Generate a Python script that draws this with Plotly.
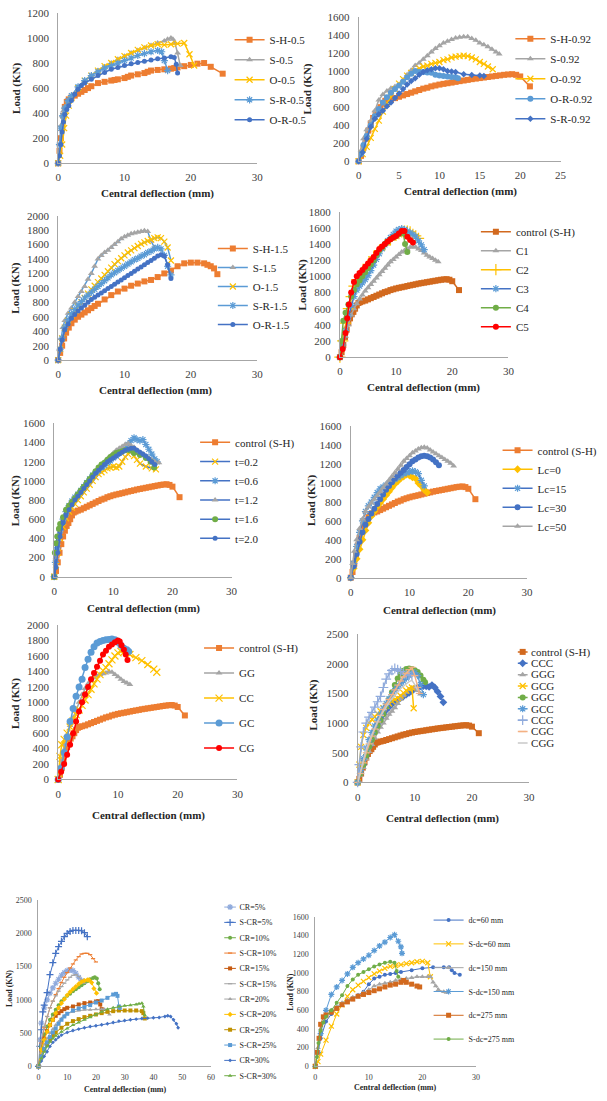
import plotly.graph_objects as go

W, H = 607, 1101
FONT = "'Liberation Serif', 'Times New Roman', serif"

# ---------------- data ----------------
# shared control specimen (S-H / S-H-0.92 / control (S-H))
ctrl_x = [0, 0.3, 0.6, 0.9, 1.2, 1.5, 1.8, 2.1, 2.4, 2.7, 3.0, 3.3, 3.6, 4, 4.5, 5, 5.5, 6, 6.5, 7, 7.5, 8, 8.5, 9, 9.5, 10, 10.5, 11, 11.5, 12, 12.5, 13, 13.5, 14, 14.5, 15, 15.5, 16, 16.5, 17, 17.5, 18, 18.5, 19, 19.5, 20, 21.2]
ctrl_y = [0, 60, 150, 250, 340, 420, 480, 530, 560, 600, 640, 670, 680, 690, 700, 715, 730, 745, 760, 775, 790, 805, 815, 830, 840, 850, 858, 865, 872, 880, 888, 895, 902, 910, 916, 922, 928, 934, 940, 946, 952, 958, 962, 965, 958, 940, 830]

# panel 1
p1_sh_x = [0, 0.2, 0.4, 0.6, 0.8, 1.0, 1.3, 1.6, 2.0, 2.5, 3, 3.5, 4, 4.5, 5, 6, 7, 8, 8.5, 9, 10, 10.5, 11, 12, 13, 13.5, 14, 15, 16, 17, 17.5, 18, 19, 20, 21, 22, 23, 24.8]
p1_sh_y = [0, 100, 200, 280, 380, 450, 490, 510, 525, 540, 555, 570, 585, 600, 615, 640, 650, 660, 665, 670, 680, 690, 700, 710, 720, 730, 740, 745, 750, 755, 760, 765, 775, 785, 795, 800, 770, 715]
p1_s_x = [0, 0.2, 0.4, 0.6, 0.8, 1, 1.5, 2, 3, 4, 5, 6, 7, 8, 9, 10, 11, 12, 13, 14, 15, 16, 16.5, 17, 17.3, 17.6, 18, 18.4]
p1_s_y = [0, 150, 300, 380, 420, 450, 500, 540, 610, 660, 700, 740, 770, 800, 830, 855, 880, 900, 920, 940, 960, 975, 990, 1000, 990, 960, 880, 780]
p1_o_x = [0, 0.3, 0.6, 0.9, 1.2, 1.6, 2, 3, 4, 5, 6, 7, 8, 9, 10, 11, 12, 13, 14, 15, 16, 17, 18, 19, 19.8, 20.5]
p1_o_y = [0, 60, 150, 280, 380, 460, 520, 600, 660, 700, 740, 775, 800, 830, 855, 880, 905, 925, 940, 950, 945, 950, 955, 960, 870, 780]
p1_sr_x = [0, 0.2, 0.4, 0.7, 1, 1.5, 2, 3, 4, 5, 6, 7, 8, 9, 10, 11, 12, 13, 14, 15, 15.6, 16, 16.5]
p1_sr_y = [0, 150, 280, 380, 440, 500, 540, 610, 660, 700, 730, 760, 780, 800, 820, 840, 860, 875, 890, 900, 890, 820, 740]
p1_or_x = [0, 0.2, 0.4, 0.6, 0.8, 1, 1.3, 1.6, 2, 2.5, 3, 3.5, 4, 5, 6, 7, 8, 9, 10, 11, 12, 13, 14, 15, 16, 17, 17.5, 17.8, 18]
p1_or_y = [0, 60, 150, 250, 330, 390, 430, 460, 500, 550, 590, 620, 640, 670, 700, 725, 750, 765, 780, 795, 805, 815, 825, 835, 840, 850, 845, 790, 720]

# panel 2
p2_s_x = [0, 0.3, 0.6, 1, 1.5, 2, 2.5, 3, 3.5, 4, 4.5, 5, 5.5, 6, 6.5, 7, 7.5, 8, 8.5, 9, 9.5, 10, 10.5, 11, 11.5, 12, 12.5, 13, 13.5, 14, 14.5, 15, 15.5, 16, 16.5, 17, 17.4]
p2_s_y = [0, 120, 250, 350, 450, 560, 680, 740, 780, 810, 830, 850, 900, 960, 1010, 1060, 1090, 1130, 1170, 1210, 1250, 1280, 1310, 1330, 1350, 1365, 1375, 1380, 1380, 1360, 1340, 1310, 1290, 1270, 1240, 1210, 1190]
p2_o_x = [0, 0.5, 1, 1.5, 2, 2.5, 3, 3.5, 4, 4.5, 5, 5.5, 6, 6.5, 7, 7.5, 8, 8.5, 9, 9.5, 10, 10.5, 11, 11.5, 12, 12.5, 13, 13.5, 14, 14.5, 15, 15.5, 16, 16.6]
p2_o_y = [0, 80, 160, 260, 360, 450, 550, 640, 720, 800, 860, 910, 950, 980, 1000, 1030, 1050, 1060, 1080, 1090, 1100, 1120, 1130, 1150, 1160, 1165, 1170, 1165, 1150, 1130, 1100, 1080, 1050, 1020]
p2_or_x = [0, 0.3, 0.6, 1, 1.5, 2, 2.5, 3, 3.5, 4, 4.5, 5, 5.5, 6, 6.5, 7, 7.5, 8, 8.5, 9, 9.5, 10, 10.5, 11, 11.5, 12, 12.3]
p2_or_y = [0, 80, 180, 280, 400, 500, 580, 650, 710, 760, 800, 840, 880, 930, 970, 1000, 990, 990, 985, 980, 960, 950, 945, 940, 935, 930, 920]
p2_sr_x = [0, 0.5, 1, 1.5, 2, 2.5, 3, 3.5, 4, 4.5, 5, 5.5, 6, 6.5, 7, 7.5, 8, 8.5, 9, 9.5, 10, 10.5, 11, 11.5, 12, 13, 14, 15, 15.5]
p2_sr_y = [0, 100, 250, 380, 470, 520, 560, 610, 650, 700, 750, 800, 850, 890, 920, 960, 990, 1010, 1020, 1030, 1030, 1020, 1000, 995, 990, 965, 955, 950, 945]

# panel 3
p3_sh_x = [0, 0.3, 0.6, 0.9, 1.2, 1.6, 2, 2.5, 3, 3.5, 4, 4.5, 5, 5.5, 6, 7, 8, 9, 10, 11, 12, 13, 14, 15, 16, 17, 18, 19, 20, 21, 22, 22.5, 23, 23.5, 24]
p3_sh_y = [0, 100, 200, 300, 380, 450, 510, 560, 600, 630, 660, 690, 720, 750, 780, 840, 900, 950, 990, 1030, 1060, 1090, 1110, 1150, 1200, 1240, 1300, 1340, 1350, 1350, 1340, 1320, 1300, 1270, 1190]
p3_s_x = [0, 0.2, 0.4, 0.7, 1, 1.5, 2, 2.5, 3, 3.5, 4, 4.5, 5, 5.5, 6, 6.5, 7, 7.5, 8, 8.5, 9, 9.5, 10, 10.5, 11, 11.5, 12, 12.5, 13, 13.5, 14, 14.5]
p3_s_y = [0, 150, 300, 450, 550, 650, 720, 800, 880, 950, 1020, 1120, 1200, 1300, 1400, 1450, 1490, 1520, 1560, 1600, 1640, 1680, 1710, 1730, 1750, 1760, 1770, 1780, 1790, 1780, 1650, 1560]
p3_o_x = [0, 0.3, 0.6, 1, 1.5, 2, 2.5, 3, 3.5, 4, 4.5, 5, 5.5, 6, 6.5, 7, 7.5, 8, 8.5, 9, 9.5, 10, 10.5, 11, 11.5, 12, 12.5, 13, 13.5, 14, 14.5, 15, 15.5, 16, 16.5, 17]
p3_o_y = [0, 150, 300, 450, 550, 620, 680, 740, 800, 860, 920, 980, 1030, 1080, 1130, 1180, 1230, 1280, 1330, 1370, 1410, 1450, 1490, 1520, 1550, 1580, 1610, 1630, 1650, 1670, 1690, 1700, 1690, 1640, 1560, 1380]
p3_sr_x = [0, 0.3, 0.6, 1, 1.5, 2, 2.5, 3, 3.5, 4, 4.5, 5, 5.5, 6, 6.5, 7, 7.5, 8, 8.5, 9, 9.5, 10, 10.5, 11, 11.5, 12, 12.5, 13, 13.5, 14, 14.5, 15, 15.5, 16, 16.5, 17]
p3_sr_y = [0, 150, 300, 450, 560, 640, 700, 760, 810, 860, 900, 940, 980, 1020, 1060, 1100, 1140, 1180, 1210, 1240, 1270, 1300, 1330, 1360, 1390, 1410, 1440, 1460, 1490, 1510, 1540, 1560, 1540, 1450, 1300, 1180]
p3_or_x = [0, 0.3, 0.6, 1, 1.5, 2, 2.5, 3, 3.5, 4, 4.5, 5, 5.5, 6, 6.5, 7, 7.5, 8, 8.5, 9, 9.5, 10, 10.5, 11, 11.5, 12, 12.5, 13, 13.5, 14, 14.5, 15, 15.5, 16, 16.5, 17]
p3_or_y = [0, 150, 280, 420, 500, 580, 630, 680, 720, 760, 800, 840, 870, 900, 930, 960, 990, 1020, 1050, 1080, 1110, 1140, 1170, 1200, 1230, 1260, 1290, 1320, 1350, 1380, 1410, 1440, 1460, 1440, 1320, 1130]

# panel 4
p4_c1_x = [0, 0.5, 1, 1.5, 2, 2.5, 3, 3.5, 4, 4.5, 5, 5.5, 6, 6.5, 7, 7.5, 8, 8.5, 9, 9.5, 10, 10.5, 11, 11.5, 12, 12.5, 13, 13.5, 14, 14.5, 15, 15.5, 16, 16.5, 17, 17.5]
p4_c1_y = [0, 120, 260, 400, 520, 600, 660, 720, 770, 820, 860, 900, 940, 980, 1020, 1060, 1100, 1140, 1180, 1210, 1240, 1270, 1300, 1320, 1340, 1360, 1370, 1360, 1340, 1320, 1290, 1260, 1240, 1220, 1200, 1180]
p4_c2_x = [0, 0.5, 1, 1.5, 2, 2.5, 3, 3.5, 4, 5, 6, 7, 8, 9, 10, 10.5, 11, 11.5, 12, 12.5, 13, 13.5, 14]
p4_c2_y = [0, 200, 420, 600, 750, 880, 960, 1010, 1060, 1150, 1240, 1320, 1390, 1450, 1510, 1530, 1550, 1560, 1560, 1550, 1520, 1500, 1470]
p4_c3_x = [0, 0.5, 1, 1.5, 2, 2.5, 3, 3.5, 4, 4.5, 5, 5.5, 6, 6.5, 7, 7.5, 8, 8.5, 9, 9.5, 10, 10.5, 11, 11.5, 12, 12.5, 13, 13.5, 14, 14.5, 15]
p4_c3_y = [0, 150, 330, 500, 640, 750, 830, 880, 920, 960, 1010, 1070, 1140, 1210, 1280, 1340, 1390, 1440, 1480, 1520, 1560, 1580, 1590, 1580, 1560, 1540, 1520, 1490, 1440, 1390, 1330]
p4_c4_x = [0, 0.3, 0.6, 1, 1.5, 2, 2.5, 3, 3.5, 4, 4.5, 5, 5.5, 6, 6.5, 7, 7.5, 8, 8.5, 9, 9.5, 10, 10.5, 11, 11.3, 11.6, 12]
p4_c4_y = [0, 200, 450, 550, 650, 750, 830, 900, 950, 1000, 1050, 1100, 1150, 1200, 1260, 1320, 1360, 1400, 1430, 1460, 1480, 1500, 1520, 1540, 1530, 1400, 1300]
p4_c5_x = [0, 0.5, 1, 1.3, 1.6, 2, 2.5, 3, 3.5, 4, 4.5, 5, 5.5, 6, 6.5, 7, 7.5, 8, 8.5, 9, 9.5, 10, 10.5, 11, 11.5, 12, 12.5, 13]
p4_c5_y = [0, 100, 300, 480, 650, 800, 930, 1000, 1040, 1080, 1120, 1160, 1200, 1240, 1290, 1340, 1370, 1400, 1430, 1460, 1480, 1500, 1530, 1560, 1560, 1490, 1450, 1420]

# panel 5
p5_t02_x = [0, 0.3, 0.6, 1, 1.5, 2, 2.5, 3, 3.5, 4, 4.5, 5, 5.5, 6, 6.5, 7, 7.5, 8, 8.5, 9, 9.5, 10, 10.5, 11, 11.5, 12, 12.5, 12.9, 13.5, 14, 14.5, 15.5, 16.5, 17.2]
p5_t02_y = [0, 120, 250, 400, 520, 610, 680, 720, 760, 800, 840, 880, 920, 960, 1000, 1040, 1070, 1090, 1110, 1130, 1140, 1150, 1140, 1150, 1200, 1250, 1280, 1300, 1260, 1220, 1180, 1150, 1130, 1120]
p5_t06_x = [0, 0.2, 0.5, 1, 1.5, 2, 2.5, 3, 3.5, 4, 4.5, 5, 5.5, 6, 6.5, 7, 7.5, 8, 8.5, 9, 9.5, 10, 10.5, 11, 11.5, 12, 12.5, 13, 13.5, 14, 14.5, 15, 15.5, 16, 16.5, 17, 17.4]
p5_t06_y = [0, 150, 300, 480, 600, 680, 740, 790, 830, 860, 900, 940, 980, 1020, 1060, 1090, 1110, 1140, 1160, 1190, 1210, 1240, 1260, 1290, 1320, 1340, 1380, 1420, 1450, 1430, 1420, 1430, 1380, 1330, 1280, 1230, 1200]
p5_t12_x = [0, 0.3, 0.6, 1, 1.5, 2, 2.5, 3, 3.5, 4, 4.5, 5, 5.5, 6, 6.5, 7, 7.5, 8, 8.5, 9, 9.5, 10, 10.5, 11, 11.5, 12, 12.5, 13, 13.5, 14, 14.5, 15, 15.5, 16, 16.5, 17, 17.7]
p5_t12_y = [0, 200, 350, 480, 600, 690, 750, 790, 830, 860, 900, 940, 980, 1020, 1060, 1100, 1140, 1170, 1200, 1230, 1260, 1290, 1320, 1340, 1360, 1380, 1390, 1370, 1350, 1320, 1300, 1280, 1260, 1240, 1220, 1200, 1190]
p5_t16_x = [0, 0.1, 0.3, 0.5, 0.8, 1, 1.5, 2, 2.5, 3, 3.5, 4, 4.5, 5, 5.5, 6, 6.5, 7, 7.5, 8, 8.5, 9, 9.5, 10, 10.5, 11, 11.5, 12, 12.7, 13.5, 14.5, 15.5, 16.3, 16.9]
p5_t16_y = [0, 250, 350, 420, 500, 550, 620, 700, 740, 780, 820, 860, 900, 940, 980, 1020, 1060, 1100, 1140, 1170, 1190, 1220, 1250, 1270, 1290, 1300, 1310, 1320, 1320, 1290, 1270, 1240, 1200, 1140]
p5_t20_x = [0, 0.3, 0.6, 1, 1.5, 2, 2.5, 3, 3.5, 4, 4.5, 5, 5.5, 6, 6.5, 7, 7.5, 8, 8.5, 9, 9.5, 10, 10.5, 11, 11.5, 12, 12.5, 13, 13.5, 14, 14.5, 15, 15.5, 16, 16.5, 17]
p5_t20_y = [0, 100, 250, 420, 560, 640, 700, 750, 800, 840, 880, 920, 960, 1000, 1040, 1080, 1110, 1140, 1170, 1200, 1220, 1240, 1260, 1280, 1300, 1320, 1330, 1340, 1340, 1320, 1300, 1280, 1260, 1230, 1200, 1170]

# panel 6
p6_lc0_x = [0, 0.5, 1, 1.5, 2, 2.5, 3, 3.5, 4, 4.5, 5, 5.5, 6, 6.5, 7, 7.5, 8, 8.5, 9, 9.5, 10, 10.5, 11, 11.5, 12, 12.5, 13]
p6_lc0_y = [0, 100, 200, 300, 400, 500, 580, 650, 700, 750, 790, 830, 870, 910, 950, 990, 1020, 1050, 1070, 1090, 1080, 1060, 1050, 1000, 970, 930, 900]
p6_lc15_x = [0, 0.5, 1, 1.5, 2, 2.5, 3, 3.5, 4, 4.5, 5, 5.5, 6, 6.5, 7, 7.5, 8, 8.5, 9, 9.5, 10, 10.5, 11, 11.5, 12, 12.5]
p6_lc15_y = [0, 150, 330, 480, 600, 700, 760, 800, 850, 900, 940, 960, 980, 1000, 1020, 1040, 1060, 1080, 1100, 1110, 1120, 1130, 1120, 1100, 1030, 970]
p6_lc30_x = [0, 0.5, 1, 1.5, 2, 2.5, 3, 3.5, 4, 4.5, 5, 5.5, 6, 6.5, 7, 7.5, 8, 8.5, 9, 9.5, 10, 10.5, 11, 11.5, 12, 12.5, 13, 13.5, 14, 14.5, 15]
p6_lc30_y = [0, 120, 250, 380, 480, 560, 620, 680, 730, 780, 830, 880, 930, 970, 1010, 1050, 1080, 1110, 1140, 1170, 1200, 1230, 1250, 1270, 1285, 1290, 1285, 1270, 1250, 1220, 1190]
p6_lc50_x = [0, 0.3, 0.6, 1, 1.5, 2, 2.5, 3, 3.5, 4, 4.5, 5, 5.5, 6, 6.5, 7, 7.5, 8, 8.5, 9, 9.5, 10, 10.5, 11, 11.5, 12, 12.5, 13, 13.5, 14, 14.5, 15, 15.5, 16, 16.5, 17, 17.5]
p6_lc50_y = [0, 150, 280, 400, 520, 620, 700, 750, 790, 830, 870, 910, 950, 990, 1030, 1070, 1110, 1150, 1190, 1230, 1260, 1290, 1320, 1340, 1360, 1375, 1380, 1370, 1350, 1330, 1310, 1290, 1270, 1250, 1230, 1210, 1180]

# panel 7
p7_gg_x = [0, 0.5, 1, 1.5, 2, 2.5, 3, 3.5, 4, 4.5, 5, 5.5, 6, 6.5, 7, 7.5, 8, 8.5, 9, 9.5, 10, 10.5, 11, 11.5, 12]
p7_gg_y = [0, 250, 450, 580, 700, 800, 900, 1000, 1100, 1180, 1240, 1280, 1320, 1340, 1360, 1370, 1380, 1400, 1390, 1360, 1330, 1300, 1270, 1250, 1230]
p7_cc_x = [0, 0.3, 0.6, 1, 1.5, 2, 2.5, 3, 3.5, 4, 4.5, 5, 5.5, 6, 6.5, 7, 7.5, 8, 8.5, 9, 9.5, 10, 10.5, 11, 12, 13, 14, 15, 16, 16.5]
p7_cc_y = [0, 300, 450, 520, 600, 680, 760, 840, 900, 960, 1030, 1100, 1170, 1240, 1300, 1360, 1410, 1450, 1500, 1550, 1600, 1640, 1660, 1650, 1620, 1580, 1540, 1490, 1430, 1390]
p7_gc_x = [0, 0.5, 1, 1.5, 2, 2.5, 3, 3.5, 4, 4.5, 5, 5.5, 6, 6.5, 7, 7.5, 8, 8.5, 9, 9.5, 10, 10.5, 11, 11.5, 11.8]
p7_gc_y = [0, 150, 350, 550, 750, 920, 1080, 1200, 1300, 1450, 1560, 1650, 1720, 1770, 1790, 1800, 1810, 1815, 1820, 1810, 1780, 1740, 1700, 1680, 1660]
p7_cg_x = [0, 0.5, 1, 1.5, 2, 2.5, 3, 3.5, 4, 4.5, 5, 5.5, 6, 6.5, 7, 7.5, 8, 8.5, 9, 9.5, 10, 10.3, 10.6, 11, 11.3, 11.6]
p7_cg_y = [0, 100, 200, 320, 450, 600, 750, 880, 1000, 1100, 1200, 1300, 1380, 1460, 1540, 1620, 1670, 1720, 1750, 1780, 1800, 1790, 1740, 1680, 1620, 1550]

# panel 8
p8_ccc_x = [0, 0.5, 1, 1.5, 2, 2.5, 3, 3.5, 4, 4.5, 5, 5.5, 6, 6.5, 7, 7.5, 8, 8.5, 9, 9.5, 10, 10.5, 11, 11.5, 12, 12.5, 13, 13.5, 14, 14.5, 15]
p8_ccc_y = [0, 150, 300, 450, 600, 750, 870, 980, 1080, 1150, 1220, 1270, 1320, 1360, 1390, 1420, 1450, 1480, 1510, 1540, 1580, 1600, 1620, 1625, 1620, 1610, 1640, 1600, 1530, 1450, 1350]
p8_ggg_x = [0, 0.5, 1, 1.5, 2, 2.5, 3, 3.5, 4, 4.5, 5, 5.5, 6, 6.5, 7, 7.5, 8, 8.5, 9, 9.5, 10, 10.5, 11]
p8_ggg_y = [0, 120, 250, 400, 520, 640, 750, 850, 930, 1000, 1080, 1150, 1200, 1260, 1330, 1400, 1460, 1520, 1560, 1590, 1590, 1550, 1490]
p8_gcg_x = [0, 0.3, 0.6, 1, 1.5, 2, 2.5, 3, 3.5, 4, 4.5, 5, 5.5, 6, 6.5, 7, 7.5, 8, 8.5, 9, 9.5, 9.8]
p8_gcg_y = [0, 300, 600, 800, 920, 1000, 1060, 1110, 1160, 1200, 1250, 1290, 1330, 1370, 1400, 1420, 1460, 1510, 1550, 1580, 1600, 1250]
p8_ggc_x = [0, 0.5, 1, 1.5, 2, 2.5, 3, 3.5, 4, 4.5, 5, 5.5, 6, 6.5, 7, 7.5, 8, 8.5, 9, 9.5, 10, 10.5, 11, 11.5, 11.8]
p8_ggc_y = [0, 150, 300, 450, 600, 720, 840, 950, 1050, 1150, 1280, 1400, 1520, 1640, 1750, 1820, 1880, 1910, 1920, 1910, 1890, 1860, 1800, 1730, 1690]
p8_gcc_x = [0, 0.5, 1, 1.5, 2, 2.5, 3, 3.5, 4, 4.5, 5, 5.5, 6, 6.5, 7, 7.5, 8, 8.5, 9, 9.5, 10, 10.5, 11, 11.5]
p8_gcc_y = [0, 200, 400, 580, 720, 840, 950, 1050, 1150, 1250, 1330, 1410, 1480, 1550, 1610, 1660, 1710, 1760, 1800, 1840, 1850, 1800, 1650, 1480]
p8_ccg_x = [0, 0.3, 0.6, 1, 1.5, 2, 2.5, 3, 3.5, 4, 4.5, 5, 5.5, 6, 6.5, 7, 7.5, 8, 8.5, 9, 9.5]
p8_ccg_y = [0, 300, 600, 850, 1000, 1100, 1180, 1270, 1360, 1450, 1600, 1740, 1830, 1890, 1920, 1900, 1870, 1840, 1820, 1810, 1800]
p8_cgc_x = [0, 0.5, 1, 1.5, 2, 2.5, 3, 3.5, 4, 4.5, 5, 5.5, 6, 6.5, 7, 7.5, 8, 8.5, 9, 9.5, 10, 10.5, 10.8]
p8_cgc_y = [0, 150, 330, 500, 650, 780, 900, 1020, 1130, 1230, 1320, 1400, 1480, 1560, 1640, 1710, 1780, 1840, 1900, 1940, 1800, 1600, 1500]
p8_cgg_x = [0, 0.5, 1, 1.5, 2, 2.5, 3, 3.5, 4, 4.5, 5, 5.5, 6, 6.5, 7, 7.5, 8, 8.5, 9, 9.5, 10, 10.5]
p8_cgg_y = [0, 200, 400, 560, 700, 820, 930, 1030, 1120, 1200, 1280, 1350, 1410, 1470, 1530, 1580, 1620, 1660, 1700, 1720, 1650, 1550]

# panel 9
p9_cr5_x = [0, 0.5, 1, 2, 3, 4, 5, 6, 7, 8, 9, 10, 11, 12, 13, 14, 15]
p9_cr5_y = [0, 400, 650, 880, 1000, 1100, 1180, 1250, 1310, 1370, 1410, 1440, 1450, 1440, 1400, 1340, 1290]
p9_scr5_x = [0, 0.5, 1, 1.5, 2, 3, 4, 5, 6, 7, 8, 9, 10, 11, 12, 13, 14, 15, 16, 17]
p9_scr5_y = [0, 300, 550, 820, 920, 1110, 1380, 1560, 1700, 1800, 1880, 1950, 2000, 2030, 2045, 2045, 2045, 2040, 2010, 1950]
p9_cr10_x = [0, 1, 2, 3, 4, 5, 6, 7, 8, 9, 10, 11, 12, 13, 14, 15, 16, 17, 18, 19, 19.6, 20.3, 20.8, 21.3]
p9_cr10_y = [0, 300, 480, 600, 700, 780, 850, 920, 980, 1020, 1060, 1090, 1130, 1160, 1190, 1220, 1250, 1280, 1310, 1330, 1340, 1320, 1250, 1160]
p9_scr10_x = [0, 1, 2, 3, 4, 5, 6, 7, 8, 9, 10, 11, 12, 13, 14, 15, 16, 17, 18, 19, 20]
p9_scr10_y = [0, 350, 580, 750, 880, 980, 1080, 1170, 1260, 1340, 1410, 1480, 1540, 1600, 1650, 1690, 1700, 1700, 1680, 1620, 1570]
p9_cr15_x = [0, 1, 2, 3, 4, 5, 6, 7, 8, 9, 10, 12, 14, 16, 18, 20, 20.8, 21.5, 22]
p9_cr15_y = [0, 250, 420, 530, 620, 700, 760, 800, 830, 860, 880, 900, 930, 950, 960, 975, 980, 930, 860]
p9_scr15_x = [0, 1, 2, 3, 4, 5, 6, 7, 8, 9, 10, 11, 12, 13, 14, 15, 16]
p9_scr15_y = [0, 400, 600, 750, 880, 980, 1060, 1130, 1200, 1250, 1300, 1340, 1370, 1380, 1350, 1300, 1250]
p9_cr20_x = [0, 1, 2, 3, 4, 5, 6, 7, 8, 9, 10, 12, 14, 16, 18, 20, 22, 23, 24, 24.7]
p9_cr20_y = [0, 200, 330, 420, 500, 560, 620, 670, 720, 760, 790, 820, 840, 850, 850, 860, 860, 860, 840, 780]
p9_scr20_x = [0, 1, 2, 3, 4, 5, 6, 7, 8, 9, 10, 11, 12, 13, 14, 15, 16, 17, 17.6, 18.5, 19.3, 20.2]
p9_scr20_y = [0, 250, 400, 520, 620, 700, 800, 880, 950, 1010, 1070, 1120, 1160, 1200, 1240, 1270, 1290, 1300, 1300, 1260, 1170, 1100]
p9_cr25_x = [0, 1, 2, 3, 4, 5, 6, 8, 10, 12, 14, 16, 18, 20, 22, 24, 26, 28, 30, 32, 34, 36, 36.5, 37]
p9_cr25_y = [0, 150, 250, 330, 400, 460, 510, 580, 640, 680, 710, 740, 760, 780, 800, 820, 830, 840, 840, 840, 840, 830, 800, 720]
p9_scr25_x = [0, 1, 2, 3, 4, 5, 6, 7, 8, 9, 10, 12, 14, 16, 18, 20, 22, 24, 26, 27, 27.5, 28, 28.3]
p9_scr25_y = [0, 150, 260, 360, 440, 510, 570, 640, 700, 750, 790, 840, 870, 890, 920, 960, 990, 1030, 1080, 1090, 1060, 900, 880]
p9_cr30_x = [0, 1, 2, 3, 4, 5, 6, 7, 8, 10, 12, 14, 16, 18, 20, 22, 24, 26, 28, 30, 32, 34, 36, 38, 40, 42, 44, 45, 46, 47, 48, 48.6]
p9_cr30_y = [0, 80, 150, 220, 300, 360, 400, 440, 470, 510, 540, 560, 580, 600, 610, 625, 640, 660, 680, 690, 700, 710, 720, 725, 730, 735, 750, 760, 750, 700, 640, 580]
p9_scr30_x = [0, 1, 2, 3, 4, 5, 6, 8, 10, 12, 14, 16, 18, 20, 22, 24, 26, 28, 30, 32, 34, 35, 36, 36.5, 37]
p9_scr30_y = [0, 120, 220, 300, 370, 420, 460, 520, 570, 620, 660, 700, 740, 780, 820, 860, 880, 900, 910, 920, 930, 940, 950, 900, 770]

# panel 10
p10_dc60_x = [0, 0.5, 1, 2, 3, 4, 5, 6, 7, 8, 9, 10, 11, 12, 13, 14, 15, 16, 18, 20, 22, 24, 25, 25.5, 26, 27]
p10_dc60_y = [0, 150, 300, 480, 560, 620, 670, 700, 730, 760, 800, 880, 940, 960, 980, 990, 1000, 1010, 1030, 1050, 1060, 1060, 1060, 1030, 1000, 980]
p10_sdc60_x = [0, 0.5, 1, 2, 3, 4, 5, 6, 7, 8, 9, 10, 11, 12, 13, 14, 15, 16, 17, 18, 19, 20, 21, 21.5]
p10_sdc60_y = [0, 50, 130, 280, 430, 560, 660, 750, 820, 870, 910, 950, 990, 1020, 1050, 1070, 1080, 1090, 1100, 1110, 1120, 1125, 1110, 960]
p10_dc150_x = [0, 0.5, 1, 2, 3, 4, 5, 6, 7, 8, 9, 10, 11, 12, 13, 14, 15, 16, 17, 18, 19, 20, 21, 21.5, 22, 22.5, 23, 24, 24.5]
p10_dc150_y = [0, 200, 400, 550, 600, 640, 680, 710, 740, 760, 790, 820, 860, 880, 890, 900, 920, 930, 940, 950, 960, 960, 960, 960, 900, 860, 820, 800, 790]
p10_sdc150_x = [0, 0.5, 1, 2, 3, 4, 5, 6, 7, 8, 9, 10, 11, 12, 13, 14, 14.8, 15.5, 16, 16.2]
p10_sdc150_y = [0, 150, 350, 600, 770, 850, 920, 990, 1060, 1110, 1150, 1190, 1240, 1290, 1330, 1380, 1410, 1340, 1280, 1210]
p10_dc275_x = [0, 0.3, 0.7, 1, 1.5, 2, 3, 4, 5, 6, 7, 8, 9, 10, 11, 12, 13, 14, 15, 16, 16.5, 17, 18, 19, 19.5]
p10_dc275_y = [0, 150, 300, 450, 530, 550, 580, 620, 660, 690, 720, 750, 770, 790, 810, 830, 850, 870, 880, 900, 920, 900, 880, 860, 850]
p10_sdc275_x = [0, 0.3, 0.6, 1, 1.5, 2, 3, 4, 5, 6, 7, 8, 9, 10, 11, 12, 13, 14, 14.8, 15.2, 15.5]
p10_sdc275_y = [0, 100, 250, 380, 470, 530, 600, 680, 760, 860, 930, 980, 1010, 1040, 1070, 1090, 1110, 1120, 1110, 1020, 960]

# ---------------- styling ----------------
ORANGE = "#ED7D31"; GRAY = "#A5A5A5"; GOLD = "#FFC000"; LBLUE = "#5B9BD5"
BLUE = "#4472C4"; GREEN = "#70AD47"; RED = "#FF0000"; DORANGE = "#C55A11"
DGOLD = "#BF9000"; SALMON = "#F4B183"; LGRAY = "#C9C9C9"; PBLUE = "#8FAADC"
CTRL = "#D2691E"
AXC = "#A6A6A6"; TXT = "#404040"; TTL = "#262626"


def st(lc, sym=None, mc=None, ms=6, lw=1.5):
    return dict(lc=lc, sym=sym, mc=mc or lc, ms=ms, lw=lw)


PANELS = [
    dict(id=1, px=(56, 258, 7, 159), xr=(0, 30), dx=10, yr=(0, 1200), dy=200, fs=11,
         yt=(13, 83), xt=(157, 190), leg=(270, 34, 20),
         series=[("S-H-0.5", p1_sh_x, p1_sh_y, st(ORANGE, "square")),
                 ("S-0.5", p1_s_x, p1_s_y, st(GRAY, "triangle-up")),
                 ("O-0.5", p1_o_x, p1_o_y, st(GOLD, "x-thin-open")),
                 ("S-R-0.5", p1_sr_x, p1_sr_y, st(LBLUE, "asterisk-open")),
                 ("O-R-0.5", p1_or_x, p1_or_y, st(BLUE, "circle", ms=5))]),
    dict(id=2, px=(361, 566, 11, 157), xr=(0, 25), dx=5, yr=(0, 1600), dy=200, fs=11,
         yt=(309, 84), xt=(464, 188), leg=(555, 33, 20),
         series=[("S-H-0.92", ctrl_x, ctrl_y, st(ORANGE, "square")),
                 ("S-0.92", p2_s_x, p2_s_y, st(GRAY, "triangle-up")),
                 ("O-0.92", p2_o_x, p2_o_y, st(GOLD, "x-thin-open")),
                 ("O-R-0.92", p2_or_x, p2_or_y, st(LBLUE, "circle")),
                 ("S-R-0.92", p2_sr_x, p2_sr_y, st(BLUE, "diamond", ms=5))]),
    dict(id=3, px=(56, 258, 212, 358), xr=(0, 30), dx=10, yr=(0, 2000), dy=200, fs=11,
         yt=(13, 285), xt=(155, 389), leg=(253, 245, 18),
         series=[("S-H-1.5", p3_sh_x, p3_sh_y, st(ORANGE, "square")),
                 ("S-1.5", p3_s_x, p3_s_y, st(LBLUE, "triangle-up", GRAY)),
                 ("O-1.5", p3_o_x, p3_o_y, st(LBLUE, "x-thin-open", GOLD)),
                 ("S-R-1.5", p3_sr_x, p3_sr_y, st(LBLUE, "asterisk-open")),
                 ("O-R-1.5", p3_or_x, p3_or_y, st(BLUE, "circle", ms=5))]),
    dict(id=4, px=(342, 513, 208, 355), xr=(0, 30), dx=10, yr=(0, 1800), dy=200, fs=11,
         yt=(304, 282), xt=(427, 386), leg=(520, 228, 18.4),
         series=[("control (S-H)", ctrl_x, ctrl_y, st(CTRL, "square")),
                 ("C1", p4_c1_x, p4_c1_y, st(GRAY, "triangle-up")),
                 ("C2", p4_c2_x, p4_c2_y, st(GOLD, "cross-thin-open", ms=8)),
                 ("C3", p4_c3_x, p4_c3_y, st(BLUE, "asterisk-open", LBLUE)),
                 ("C4", p4_c4_x, p4_c4_y, st(GREEN, "circle")),
                 ("C5", p4_c5_x, p4_c5_y, st(RED, "circle"))]),
    dict(id=5, px=(52, 232, 422, 577), xr=(0, 30), dx=10, yr=(0, 1600), dy=200, fs=11,
         yt=(13, 500), xt=(143, 609), leg=(235, 441, 19.2),
         series=[("control (S-H)", ctrl_x, ctrl_y, st(ORANGE, "square")),
                 ("t=0.2", p5_t02_x, p5_t02_y, st(BLUE, "x-thin-open", GOLD)),
                 ("t=0.6", p5_t06_x, p5_t06_y, st(BLUE, "asterisk-open", LBLUE)),
                 ("t=1.2", p5_t12_x, p5_t12_y, st(BLUE, "triangle-up", GRAY)),
                 ("t=1.6", p5_t16_x, p5_t16_y, st(BLUE, "circle", GREEN)),
                 ("t=2.0", p5_t20_x, p5_t20_y, st(BLUE, "circle", ms=5))]),
    dict(id=6, px=(353, 532, 425, 578), xr=(0, 30), dx=10, yr=(0, 1600), dy=200, fs=11,
         yt=(313, 500), xt=(443, 611), leg=(542, 449, 19),
         series=[("control (S-H)", ctrl_x, ctrl_y, st(ORANGE, "square")),
                 ("Lc=0", p6_lc0_x, p6_lc0_y, st(GOLD, "diamond")),
                 ("Lc=15", p6_lc15_x, p6_lc15_y, st(BLUE, "asterisk-open", LBLUE)),
                 ("Lc=30", p6_lc30_x, p6_lc30_y, st(BLUE, "circle")),
                 ("Lc=50", p6_lc50_x, p6_lc50_y, st(GRAY, "triangle-up"))]),
    dict(id=7, px=(56, 238, 626, 782), xr=(0, 30), dx=10, yr=(0, 2000), dy=200, fs=11,
         yt=(13, 705), xt=(148, 818), leg=(239, 649, 25),
         series=[("control (S-H)", ctrl_x, ctrl_y, st(ORANGE, "square")),
                 ("GG", p7_gg_x, p7_gg_y, st(GRAY, "triangle-up")),
                 ("CC", p7_cc_x, p7_cc_y, st(GOLD, "x-thin-open", ms=7)),
                 ("GC", p7_gc_x, p7_gc_y, st(LBLUE, "circle", ms=7)),
                 ("CG", p7_cg_x, p7_cg_y, st(RED, "circle", ms=6))]),
    dict(id=8, px=(360, 534, 635, 785), xr=(0, 30), dx=10, yr=(0, 2500), dy=500, fs=11,
         yt=(315, 707), xt=(446, 821), custom=(522, 533, 653, 11.5),
         series=[("control (S-H)", ctrl_x, ctrl_y, st(CTRL, "square")),
                 ("CCC", p8_ccc_x, p8_ccc_y, st(BLUE, "diamond")),
                 ("GGG", p8_ggg_x, p8_ggg_y, st(GRAY, "triangle-up")),
                 ("GCG", p8_gcg_x, p8_gcg_y, st(GOLD, "x-thin-open")),
                 ("GGC", p8_ggc_x, p8_ggc_y, st(GREEN, "circle")),
                 ("GCC", p8_gcc_x, p8_gcc_y, st(LBLUE, "asterisk-open")),
                 ("CCG", p8_ccg_x, p8_ccg_y, st(PBLUE, "cross-thin-open", ms=7)),
                 ("CGC", p8_cgc_x, p8_cgc_y, st(SALMON, "line-ew-open", ms=5)),
                 ("CGG", p8_cgg_x, p8_cgg_y, st(LGRAY, None))]),
    dict(id=9, px=(36, 211, 904, 1072), xr=(0, 60), dx=10, yr=(0, 2500), dy=500, fs=8,
         yt=(6, 993), xt=(124, 1095), custom=(224, 237, 911, 15.5),
         series=[("CR=5%", p9_cr5_x, p9_cr5_y, st(PBLUE, "asterisk-open", ms=5, lw=1)),
                 ("S-CR=5%", p9_scr5_x, p9_scr5_y, st(BLUE, "cross-thin-open", ms=5, lw=1)),
                 ("CR=10%", p9_cr10_x, p9_cr10_y, st(GREEN, "circle", ms=4, lw=1)),
                 ("S-CR=10%", p9_scr10_x, p9_scr10_y, st(ORANGE, "line-ew-open", ms=3, lw=1)),
                 ("CR=15%", p9_cr15_x, p9_cr15_y, st(DORANGE, "square", ms=4, lw=1)),
                 ("S-CR=15%", p9_scr15_x, p9_scr15_y, st(GRAY, "line-ew-open", ms=3, lw=1)),
                 ("CR=20%", p9_cr20_x, p9_cr20_y, st(GRAY, "triangle-up", ms=4, lw=1)),
                 ("S-CR=20%", p9_scr20_x, p9_scr20_y, st(GOLD, "diamond", ms=4, lw=1)),
                 ("CR=25%", p9_cr25_x, p9_cr25_y, st(DGOLD, "square", ms=4, lw=1)),
                 ("S-CR=25%", p9_scr25_x, p9_scr25_y, st(LBLUE, "square", ms=4, lw=1)),
                 ("CR=30%", p9_cr30_x, p9_cr30_y, st(BLUE, "diamond", ms=3, lw=1)),
                 ("S-CR=30%", p9_scr30_x, p9_scr30_y, st(GREEN, "triangle-up", ms=4, lw=1))]),
    dict(id=10, px=(317, 480, 921, 1072), xr=(0, 30), dx=10, yr=(0, 1600), dy=200, fs=8,
         yt=(291, 997), xt=(398, 1093), leg=(472, 924, 23.8),
         series=[("dc=60 mm", p10_dc60_x, p10_dc60_y, st(BLUE, "circle", ms=4, lw=1)),
                 ("S-dc=60 mm", p10_sdc60_x, p10_sdc60_y, st(GOLD, "x-thin-open", ms=5, lw=1)),
                 ("dc=150 mm", p10_dc150_x, p10_dc150_y, st(GRAY, "triangle-up", ms=5, lw=1)),
                 ("S-dc=150 mm", p10_sdc150_x, p10_sdc150_y, st(LBLUE, "asterisk-open", ms=5, lw=1)),
                 ("dc=275 mm", p10_dc275_x, p10_dc275_y, st(CTRL, "square", ms=5, lw=1)),
                 ("S-dc=275 mm", p10_sdc275_x, p10_sdc275_y, st(GREEN, "circle", ms=4, lw=1))]),
]

LEG_SAMPLE_X = [0, 0.5, 1]


def marker_of(s, sizes=None, opac=None):
    sym = s["sym"]
    size = sizes if sizes is not None else s["ms"]
    if sym is None:
        return None
    if sym.endswith("-open"):
        m = dict(symbol=sym, size=size, color=s["mc"], line=dict(width=1.2, color=s["mc"]))
    else:
        m = dict(symbol=sym, size=size, color=s["mc"], line=dict(width=0))
    if opac is not None:
        m["opacity"] = opac
    return m


fig = go.Figure()
layout = dict(width=W, height=H, margin=dict(l=0, r=0, t=0, b=0),
              paper_bgcolor="white", plot_bgcolor="white", hovermode=False,
              showlegend=True, font=dict(family=FONT))
annotations = []
extra_axis = 11

for p in PANELS:
    i = p["id"]
    ax = "" if i == 1 else str(i)
    x0, x1, y0, y1 = p["px"]
    fs = p["fs"]
    layout["xaxis" + ax] = dict(
        domain=[x0 / W, x1 / W], range=list(p["xr"]), anchor="y" + ax, tick0=0, dtick=p["dx"],
        showgrid=False, zeroline=False, showline=True, linecolor=AXC, linewidth=1, ticks="",
        tickfont=dict(family=FONT, size=fs, color=TXT), ticklabelstandoff=4 if fs > 9 else 3,
        fixedrange=True)
    layout["yaxis" + ax] = dict(
        domain=[1 - y1 / H, 1 - y0 / H], range=list(p["yr"]), anchor="x" + ax, tick0=0, dtick=p["dy"],
        showgrid=False, zeroline=False, showline=True, linecolor=AXC, linewidth=1, ticks="",
        tickfont=dict(family=FONT, size=fs, color=TXT), ticklabelstandoff=6 if fs > 9 else 4,
        fixedrange=True)

    legname = None
    if "leg" in p:
        tx, c0, sp = p["leg"]
        legname = "legend" + ax
        layout[legname] = dict(
            x=(tx - 40) / W, y=1 - (c0 - 14.5) / H, xanchor="left", yanchor="top",
            bgcolor="rgba(0,0,0,0)", borderwidth=0, itemwidth=30, traceorder="grouped",
            tracegroupgap=max(0, sp - 19), font=dict(family=FONT, size=fs, color=TTL))

    for k, (name, xs, ys, s) in enumerate(p["series"]):
        mk = marker_of(s)
        tr = go.Scatter(x=xs, y=ys, name=name, xaxis="x" + ax, yaxis="y" + ax,
                        mode="lines+markers" if mk else "lines",
                        line=dict(color=s["lc"], width=s["lw"]), cliponaxis=False)
        if mk:
            tr.marker = mk
        if legname:
            tr.legend = legname
            tr.legendgroup = "p%d_%d" % (i, k)
            tr.showlegend = True
        else:
            tr.showlegend = False
        fig.add_trace(tr)

    if "custom" in p:
        lx0, lx1, c0, sp = p["custom"]
        names = [se[0] for se in p["series"]]
        n = len(names)
        la = str(extra_axis)
        extra_axis += 1
        top = c0 - sp / 2
        bot = c0 + sp * (n - 1) + sp / 2
        layout["xaxis" + la] = dict(domain=[lx0 / W, lx1 / W], range=[-0.05, 1.05], anchor="y" + la,
                                    visible=False, fixedrange=True)
        layout["yaxis" + la] = dict(domain=[1 - bot / H, 1 - top / H], anchor="x" + la, type="category",
                                    categoryorder="array", categoryarray=names, range=[n - 0.5, -0.5],
                                    tickmode="array", tickvals=names, ticktext=names,
                                    side="right", showline=False, showgrid=False, zeroline=False,
                                    ticks="", ticklabelstandoff=2,
                                    tickfont=dict(family=FONT, size=fs, color=TTL), fixedrange=True)
        for name, xs, ys, s in p["series"]:
            mk = marker_of(s, sizes=[0, s["ms"], 0], opac=[0, 1, 0])
            tr = go.Scatter(x=LEG_SAMPLE_X, y=[name] * len(LEG_SAMPLE_X), xaxis="x" + la, yaxis="y" + la,
                            mode="lines+markers" if mk else "lines", showlegend=False,
                            line=dict(color=s["lc"], width=s["lw"]), cliponaxis=False)
            if mk:
                tr.marker = mk
            fig.add_trace(tr)

    ytx, yty = p["yt"]
    xtx, xty = p["xt"]
    annotations.append(dict(text="<b>Load (KN)</b>", x=ytx / W, y=1 - yty / H, xref="paper", yref="paper",
                            showarrow=False, textangle=-90, xanchor="center", yanchor="middle",
                            font=dict(family=FONT, size=fs, color=TTL)))
    annotations.append(dict(text="<b>Central deflection (mm)</b>", x=xtx / W, y=1 - xty / H,
                            xref="paper", yref="paper", showarrow=False, xanchor="center",
                            yanchor="middle", font=dict(family=FONT, size=fs, color=TTL)))

layout["annotations"] = annotations
fig.update_layout(**layout)
fig.write_html("out.html")
